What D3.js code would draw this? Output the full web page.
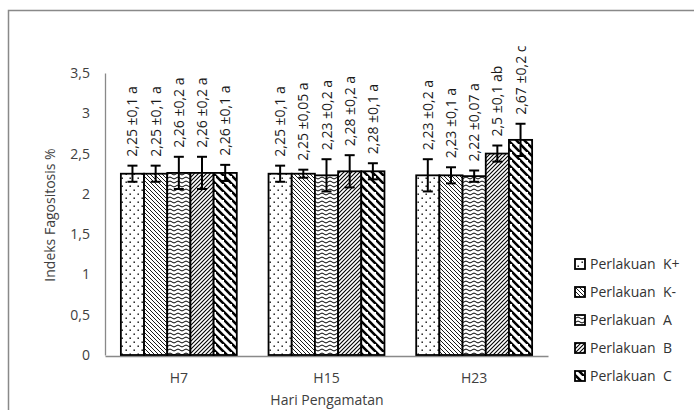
<!DOCTYPE html>
<html><head><meta charset="utf-8">
<script src="https://cdn.jsdelivr.net/npm/d3@7"></script>
<style>body{margin:0;background:#fff}svg{display:block}</style>
</head><body><svg id="c" width="694" height="410"></svg>
<script>
const categories = ["H7", "H15", "H23"];
const series = ["Perlakuan  K+", "Perlakuan  K-", "Perlakuan  A", "Perlakuan  B", "Perlakuan  C"];
const valK_plus  = [2.25, 2.25, 2.23];
const valK_minus = [2.25, 2.25, 2.23];
const valA       = [2.26, 2.23, 2.22];
const valB       = [2.26, 2.28, 2.5];
const valC       = [2.26, 2.28, 2.67];
const errK_plus  = [0.1, 0.1, 0.2];
const errK_minus = [0.1, 0.05, 0.1];
const errA       = [0.2, 0.2, 0.07];
const errB       = [0.2, 0.2, 0.1];
const errC       = [0.1, 0.1, 0.2];
const labelsK_plus  = ["2,25 ±0,1 a", "2,25 ±0,1 a", "2,23 ±0,2 a"];
const labelsK_minus = ["2,25 ±0,1 a", "2,25 ±0,05 a", "2,23 ±0,1 a"];
const labelsA       = ["2,26 ±0,2 a", "2,23 ±0,2 a", "2,22 ±0,07 a"];
const labelsB       = ["2,26 ±0,2 a", "2,28 ±0,2 a", "2,5 ±0,1 ab"];
const labelsC       = ["2,26 ±0,1 a", "2,28 ±0,1 a", "2,67 ±0,2 c"];
const yTicks = [0, 0.5, 1, 1.5, 2, 2.5, 3, 3.5];
const yTickLabels = ["0", "0,5", "1", "1,5", "2", "2,5", "3", "3,5"];
const yTitle = "Indeks Fagositosis %";
const xTitle = "Hari Pengamatan";

const vals = [valK_plus, valK_minus, valA, valB, valC];
const errs = [errK_plus, errK_minus, errA, errB, errC];
const labs = [labelsK_plus, labelsK_minus, labelsA, labelsB, labelsC];
const patIds = ["pDots", "pZig", "pWave", "pUp", "pWide"];

const svg = d3.select("#c");
const FONT = "'Open Sans', 'Noto Sans', sans-serif";

const defs = svg.append("defs");
function pat(id, w, h, draw) {
  const p = defs.append("pattern").attr("id", id).attr("patternUnits", "userSpaceOnUse")
    .attr("width", w).attr("height", h);
  p.append("rect").attr("width", w).attr("height", h).attr("fill", "#fff");
  draw(p);
}
pat("pDots", 8, 8, p => {
  p.append("rect").attr("x", 1.5).attr("y", 1.5).attr("width", 1.4).attr("height", 1.4).attr("fill", "#000");
  p.append("rect").attr("x", 5.5).attr("y", 5.5).attr("width", 1.4).attr("height", 1.4).attr("fill", "#000");
});
pat("pZig", 4, 4, p => {
  p.append("path").attr("d", "M-1,-1L5,5M-1,3L1,5M3,-1L5,1").attr("stroke", "#000").attr("stroke-width", 0.9);
});
pat("pWave", 8, 4, p => {
  p.append("path").attr("d", "M0,2 Q2,0 4,2 T8,2").attr("fill", "none").attr("stroke", "#000").attr("stroke-width", 1);
});
pat("pUp", 4, 4, p => {
  p.append("path").attr("d", "M-1,5L5,-1M-1,1L1,-1M3,5L5,3").attr("stroke", "#000").attr("stroke-width", 1.1);
});
pat("pWide", 8, 8, p => {
  p.append("path").attr("d", "M-2,-2L10,10M-6,2L2,10M6,-6L14,2").attr("stroke", "#000").attr("stroke-width", 2.6);
});

svg.append("rect").attr("x", 8.5).attr("y", 10.5).attr("width", 720).attr("height", 440)
  .attr("fill", "none").attr("stroke", "#898989").attr("stroke-width", 1.5);

const y = d3.scaleLinear().domain([0, 3.5]).range([355, 73]);
const x0 = d3.scaleBand().domain(categories).range([105, 548]).paddingInner(0.215).paddingOuter(0.1075);
const x1 = d3.scaleBand().domain(d3.range(series.length)).range([0, x0.bandwidth()]);

const yAxis = svg.append("g").attr("transform", "translate(105,0)")
  .call(d3.axisLeft(y).tickValues(yTicks).tickFormat((d, i) => yTickLabels[i]).tickSize(0).tickPadding(15));
yAxis.select(".domain").attr("stroke", "#898989").attr("stroke-width", 1.3);
yAxis.selectAll("text").attr("font-family", FONT).attr("font-size", 14).attr("fill", "#404040");

const xAxis = svg.append("g").attr("transform", "translate(0,356)")
  .call(d3.axisBottom(x0).tickSize(0).tickPadding(17));
xAxis.select(".domain").attr("stroke", "#898989").attr("stroke-width", 1.5);
xAxis.selectAll("text").attr("font-family", FONT).attr("font-size", 14).attr("fill", "#404040");

svg.append("text").attr("transform", "translate(55,215) rotate(-90)").attr("text-anchor", "middle")
  .attr("font-family", FONT).attr("font-size", 14).attr("fill", "#404040").text(yTitle);
svg.append("text").attr("x", 327).attr("y", 405).attr("text-anchor", "middle")
  .attr("font-family", FONT).attr("font-size", 14).attr("fill", "#404040").text(xTitle);

const bw = x1.bandwidth();
series.forEach((s, si) => {
  const g = svg.append("g");
  categories.forEach((c, ci) => {
    const v = vals[si][ci];
    const bx = x0(c) + x1(si);
    g.append("rect").attr("x", bx).attr("y", y(v)).attr("width", bw).attr("height", y(0) - y(v))
      .attr("fill", `url(#${patIds[si]})`).attr("stroke", "#000").attr("stroke-width", 1.8);
  });
});
series.forEach((s, si) => {
  categories.forEach((c, ci) => {
    const v = vals[si][ci], e = errs[si][ci];
    const cx = x0(c) + x1(si) + bw / 2;
    const g = svg.append("g").attr("stroke", "#000").attr("stroke-width", 2);
    g.append("line").attr("x1", cx).attr("x2", cx).attr("y1", y(v + e)).attr("y2", y(v - e));
    g.append("line").attr("x1", cx - 5).attr("x2", cx + 5).attr("y1", y(v + e)).attr("y2", y(v + e));
    g.append("line").attr("x1", cx - 5).attr("x2", cx + 5).attr("y1", y(v - e)).attr("y2", y(v - e));
    svg.append("text").attr("transform", `translate(${cx + 5},${y(v + e) - 9}) rotate(-90)`)
      .attr("font-family", FONT).attr("font-size", 14).attr("fill", "#1a1a1a").text(labs[si][ci]);
  });
});

series.forEach((s, si) => {
  const ly = 264 + si * 28;
  svg.append("rect").attr("x", 575).attr("y", ly - 5).attr("width", 10).attr("height", 10)
    .attr("fill", `url(#${patIds[si]})`).attr("stroke", "#000").attr("stroke-width", 1.8);
  svg.append("text").attr("x", 590).attr("y", ly).attr("dy", "0.35em")
    .attr("font-family", FONT).attr("font-size", 14).attr("fill", "#333")
    .attr("xml:space", "preserve").style("white-space", "pre").text(s);
});
</script></body></html>
